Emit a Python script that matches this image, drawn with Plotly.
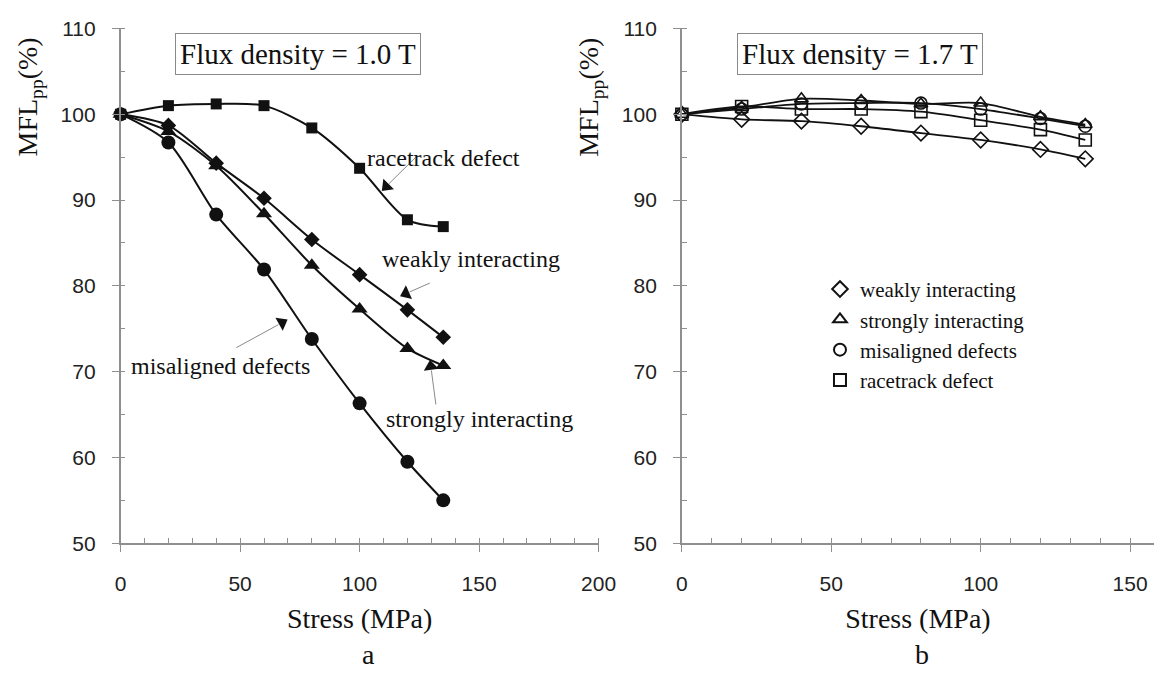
import math
import plotly.graph_objects as go

W, H = 1172, 674

stress = [0, 20, 40, 60, 80, 100, 120, 135]

# Panel a: flux density 1.0 T
a_weak = [100, 98.7, 94.3, 90.2, 85.4, 81.3, 77.2, 74.0]
a_strong = [100, 98.0, 94.0, 88.4, 82.4, 77.3, 72.7, 70.7]
a_misal = [100, 96.7, 88.3, 81.9, 73.8, 66.3, 59.5, 55.0]
a_race = [100, 101.0, 101.2, 101.0, 98.4, 93.7, 87.7, 86.9]

# Panel b: flux density 1.7 T
b_weak = [100, 99.4, 99.2, 98.6, 97.8, 97.0, 95.9, 94.8]
b_strong = [100, 100.8, 101.8, 101.6, 101.2, 101.3, 99.7, 98.8]
b_misal = [100, 100.6, 101.2, 101.3, 101.3, 100.6, 99.5, 98.6]
b_race = [100, 100.9, 100.6, 100.6, 100.3, 99.3, 98.2, 97.0]

series_names = ["weakly interacting", "strongly interacting", "misaligned defects", "racetrack defect"]

# callouts in panel a: label, label position, arrow tail, arrow head
callouts = [
    ("racetrack defect", (135.0, 94.9), (123.9, 95.1), (111.2, 91.6)),
    ("weakly interacting", (146.5, 83.1), (130.0, 80.4), (119.4, 79.1)),
    ("misaligned defects", (41.8, 70.7), (47.8, 72.7), (67.5, 75.7)),
    ("strongly interacting", (150.2, 64.5), (132.0, 66.0), (129.8, 70.6)),
]

xr_a = [0, 200]
xr_b = [0, 158]
yr = [50, 110]

dom_a = [117 / W, 605 / W]
dom_b = [690 / W, 1.0]
dom_y = [(H - 550) / H, (H - 17) / H]

SERIF = "Liberation Serif, Times New Roman, serif"
SANS = "Liberation Sans, Arial, sans-serif"
AX = "#8f8f8f"
INK = "#111111"

fig = go.Figure()

filled_syms = ["diamond", "triangle-up", "circle", "square"]
open_syms = ["diamond-open", "triangle-up-open", "circle-open", "square-open"]
sizes_a = [12, 14, 14, 11]
sizes_b = [12, 12, 12, 12]

for name, ys, sym, sz in zip(series_names, [a_weak, a_strong, a_misal, a_race], filled_syms, sizes_a):
    fig.add_trace(go.Scatter(
        x=stress, y=ys, mode="lines+markers", name=name, showlegend=False,
        line=dict(color=INK, width=2, shape="spline", smoothing=0.8),
        marker=dict(symbol=sym, size=sz, color=INK),
        xaxis="x", yaxis="y", cliponaxis=False))

for name, ys in zip(series_names, [b_weak, b_strong, b_misal, b_race]):
    fig.add_trace(go.Scatter(
        x=stress, y=ys, mode="lines", showlegend=False, hoverinfo="skip",
        line=dict(color=INK, width=1.8, shape="spline", smoothing=0.8),
        xaxis="x2", yaxis="y2"))
for name, ys, sym, sz in zip(series_names, [b_weak, b_strong, b_misal, b_race], open_syms, sizes_b):
    fig.add_trace(go.Scatter(
        x=stress, y=ys, mode="markers", name=name, showlegend=True,
        marker=dict(symbol=sym, size=sz, color=INK, line=dict(width=1.6, color=INK)),
        xaxis="x2", yaxis="y2", cliponaxis=False))

# arrow heads for callouts, oriented along the callout line
sx = W * (dom_a[1] - dom_a[0]) / (xr_a[1] - xr_a[0])
sy = H * (dom_y[1] - dom_y[0]) / (yr[1] - yr[0])
hx, hy, ang = [], [], []
for label, lpos, tail, head in callouts:
    dx = (head[0] - tail[0]) * sx
    dy = -(head[1] - tail[1]) * sy
    ang.append(math.degrees(math.atan2(dx, -dy)))
    hx.append(head[0])
    hy.append(head[1])
fig.add_trace(go.Scatter(
    x=hx, y=hy, mode="markers", showlegend=False, hoverinfo="skip",
    marker=dict(symbol="triangle-up", size=13, color=INK, angle=ang),
    xaxis="x", yaxis="y", cliponaxis=False))

annotations = []
for label, lpos, tail, head in callouts:
    annotations.append(dict(
        x=head[0], y=head[1], ax=tail[0], ay=tail[1], xref="x", yref="y",
        axref="x", ayref="y", text="", showarrow=True, arrowhead=0,
        arrowwidth=1, arrowcolor="#8a8a8a", standoff=4))
    annotations.append(dict(
        x=lpos[0], y=lpos[1], xref="x", yref="y", text=label, showarrow=False,
        xanchor="center", yanchor="middle",
        font=dict(family=SERIF, size=24, color=INK)))

# flux density boxes
for xc, txt in [((169 + 427) / 2 / W, "Flux density = 1.0 T"), ((742 + 1001) / 2 / W, "Flux density = 1.7 T")]:
    annotations.append(dict(
        x=xc, y=(H - 43) / H, xref="paper", yref="paper", text=txt, showarrow=False,
        xanchor="center", yanchor="middle",
        font=dict(family=SERIF, size=29, color=INK), bordercolor="#8a8a8a",
        borderwidth=1, borderpad=4, bgcolor="white"))

# y-axis titles
for xc in [25 / W, 597 / W]:
    annotations.append(dict(
        x=xc, y=(H - 88) / H, xref="paper", yref="paper",
        xanchor="center", yanchor="middle",
        text="MFL<sub>pp</sub>(%)", textangle=-90, showarrow=False,
        font=dict(family=SERIF, size=28, color=INK)))

# panel labels
for xc, t in [(370 / W, "a"), (935 / W, "b")]:
    annotations.append(dict(
        x=xc, y=(H - 665) / H, xref="paper", yref="paper", text=t, showarrow=False,
        xanchor="center", yanchor="middle",
        font=dict(family=SERIF, size=28, color=INK)))

def xaxis(dom, rng, anchor):
    return dict(
        domain=dom, range=rng, anchor=anchor, dtick=50, tick0=0,
        showline=True, linecolor=AX, linewidth=1.5, showgrid=False, zeroline=False,
        ticks="outside", ticklen=7, tickwidth=1.2, tickcolor=AX,
        ticklabelstandoff=14,
        tickfont=dict(family=SANS, size=21, color="#222"),
        minor=dict(dtick=10, ticks="inside", ticklen=5, tickwidth=1, tickcolor=AX, showgrid=False),
        title=dict(text="Stress (MPa)", font=dict(family=SERIF, size=28, color=INK), standoff=14))

def yaxis(anchor):
    return dict(
        domain=dom_y, range=yr, anchor=anchor, dtick=10,
        showline=True, linecolor=AX, linewidth=1.5, showgrid=False, zeroline=False,
        ticks="outside", ticklen=7, tickwidth=1.2, tickcolor=AX,
        ticklabelstandoff=12,
        tickfont=dict(family=SANS, size=21, color="#222"),
        minor=dict(dtick=5, ticks="inside", ticklen=5, tickwidth=1, tickcolor=AX, showgrid=False))

fig.update_layout(
    width=W, height=H, margin=dict(l=0, r=0, t=0, b=0),
    paper_bgcolor="white", plot_bgcolor="white",
    xaxis=xaxis(dom_a, xr_a, "y"), yaxis=yaxis("x"),
    xaxis2=xaxis(dom_b, xr_b, "y2"), yaxis2=yaxis("x2"),
    showlegend=True,
    legend=dict(x=831 / W, y=(H - 266) / H, xanchor="left", yanchor="top",
                font=dict(family=SERIF, size=21, color=INK),
                bgcolor="rgba(0,0,0,0)", tracegroupgap=0, itemsizing="constant"),
    annotations=annotations)

fig.write_html("out.html")
